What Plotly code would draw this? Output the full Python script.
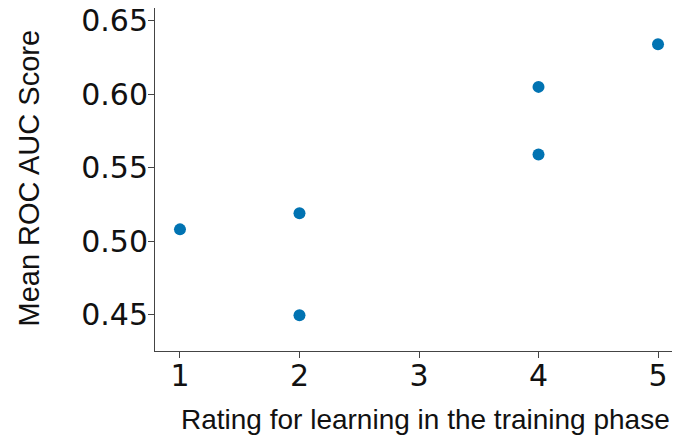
import plotly.graph_objects as go

ratings = [1, 2, 2, 4, 4, 5]
mean_auc = [0.508, 0.519, 0.4495, 0.605, 0.559, 0.634]
x_ticks = [1, 2, 3, 4, 5]
y_ticks = [0.45, 0.50, 0.55, 0.60, 0.65]
y_tick_labels = ["0.45", "0.50", "0.55", "0.60", "0.65"]

W, H = 673, 439
L, R, T, B = 155, 1, 8, 88
pw = W - L - R
ph = H - T - B

fig = go.Figure()
fig.add_trace(go.Scatter(
    x=ratings, y=mean_auc, mode="markers",
    marker=dict(color="#0173B2", size=12, line=dict(width=0)),
    showlegend=False,
))

axis_common = dict(
    showgrid=False, zeroline=False, showline=True, linecolor="#444444", linewidth=1,
    ticks="outside", ticklen=6, tickwidth=1, tickcolor="#444444",
    tickfont=dict(family="DejaVu Sans", size=30, color="#111111"),
    mirror=False,
)
fig.update_layout(
    width=W, height=H,
    margin=dict(l=L, r=R, t=T, b=B),
    paper_bgcolor="white", plot_bgcolor="white",
    xaxis=dict(range=[0.791, 5.117], tickvals=x_ticks, ticktext=[str(v) for v in x_ticks],
               ticklabelstandoff=-8, **axis_common),
    yaxis=dict(range=[0.4252, 0.6587], tickvals=y_ticks, ticktext=y_tick_labels,
               ticklabelstandoff=-6, **axis_common),
    annotations=[
        dict(text="Rating for learning in the training phase", xref="paper", yref="paper",
             x=(425 - L) / pw, y=(H - B - 419) / ph, xanchor="center", yanchor="middle",
             showarrow=False, font=dict(family="Liberation Sans, Arial", size=28, color="#111111")),
        dict(text="Mean ROC AUC Score", xref="paper", yref="paper",
             x=(28 - L) / pw, y=(H - B - 178.5) / ph, xanchor="center", yanchor="middle",
             textangle=-90, showarrow=False,
             font=dict(family="Liberation Sans, Arial", size=29, color="#111111")),
    ],
)
fig.write_html("out.html", config={"displayModeBar": False},
               post_script="document.body.style.margin='0';document.body.style.overflow='hidden';")
